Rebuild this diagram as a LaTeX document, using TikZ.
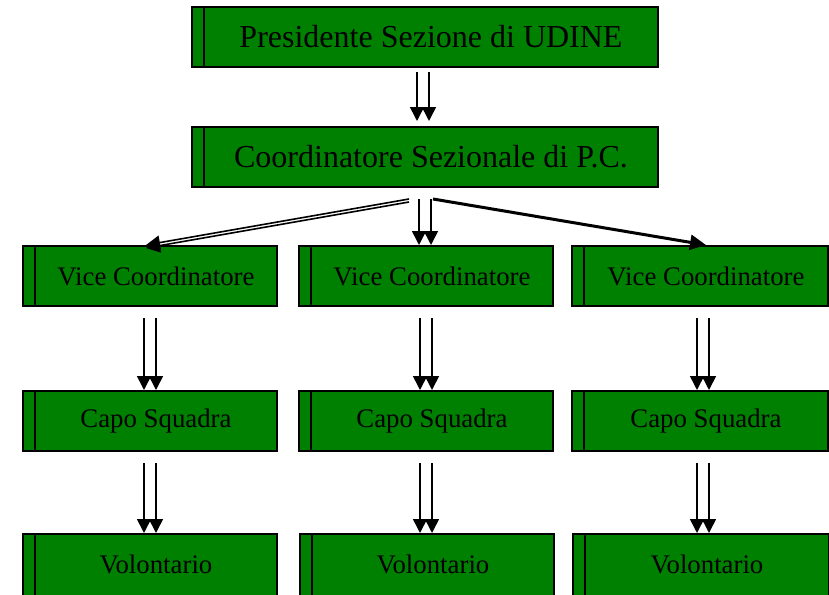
\documentclass[tikz,border=0pt]{standalone}
\usepackage{fontspec}
\setmainfont{Liberation Serif}
\usepackage{xcolor}
\usepackage{tikz}
\usetikzlibrary{arrows.meta}
\usetikzlibrary{positioning}
\definecolor{boxgreen}{RGB}{0,128,0}
\newcommand{\boxline}{1.6pt}
\newcommand{\toptext}{\fontsize{32}{36}\selectfont}
\newcommand{\rowtext}{\fontsize{26.8}{30}\selectfont}
\tikzset{
  stripe/.style={draw=black, line width=\boxline, fill=boxgreen, minimum width=12pt,
    minimum height=60pt, inner sep=0pt, outer sep=0pt},
  orgbody/.style={draw=black, line width=\boxline, fill=boxgreen, minimum height=60pt,
    inner sep=0pt, outer sep=0pt, label={[stripe]left:{}}},
  topbox/.style={orgbody, minimum width=454pt, font=\toptext},
  rowbox/.style={orgbody, minimum width=242pt, font=\rowtext},
  % bottom row runs off the page
  lastbox/.style={rowbox, minimum height=66pt, text depth=6pt,
    label={[stripe, minimum height=66pt]left:{}}},
  link/.style={line width=1.6pt, -{Triangle[length=14pt,width=14pt]}},
  fatlink/.style={line width=3pt, -{Triangle[length=16pt,width=15pt]}}
}
\begin{document}
\begin{tikzpicture}[x=1pt, y=-1pt]
	\useasboundingbox (0,0) rectangle (829,594);
	\clip (0,0) rectangle (829,594);
	% Top of the chart:
	\node[topbox] (pres) at (431,37) {Presidente Sezione di UDINE};
	\node[topbox] (coord) at (431,157) {Coordinatore Sezionale di P.C.};
	% The three columns:
	\node[rowbox] (vice1) at (156,276) {Vice Coordinatore};
	\node[rowbox] (vice2) at (432,276) {Vice Coordinatore};
	\node[rowbox, minimum width=244pt] (vice3) at (706,276) {Vice Coordinatore};
	\node[rowbox] (capo1) at (156,421) {Capo Squadra};
	\node[rowbox] (capo2) at (432,421) {Capo Squadra};
	\node[rowbox, minimum width=244pt] (capo3) at (706,421) {Capo Squadra};
	\node[lastbox] (vol1) at (156,567) {Volontario};
	\node[lastbox] (vol2) at (433,567) {Volontario};
	\node[lastbox, minimum width=244pt] (vol3) at (707,567) {Volontario};
	% Arrows:
	\foreach \dx in {-14,-2}
		\draw[link] ([shift={(\dx,5)}]pres.south) -- ([shift={(\dx,-6)}]coord.north);
	\foreach \dx in {-12,0}
		\draw[link] ([shift={(\dx,12)}]coord.south) -- ([shift={(\dx,-1)}]vice2.north -| coord.south);
	\foreach \dy in {0,3}
		\draw[link] ([shift={(-22,12+\dy)}]coord.south) -- ([shift={(-10,\dy-1)}]vice1.north);
	\draw[fatlink] ([shift={(2,12)}]coord.south) -- ([shift={(0,-1)}]vice3.north);
	\foreach \a/\b/\dx in {vice1/capo1/-12, vice2/capo2/-12, vice3/capo3/-9,
		capo1/vol1/-12, capo2/vol2/-12, capo3/vol3/-9}
	{
		\draw[link] ([shift={(\dx,12)}]\a.south) -- ([shift={(\dx,-1)}]\b.north -| \a.south);
		\draw[link] ([shift={(\dx+12,12)}]\a.south) -- ([shift={(\dx+12,-1)}]\b.north -| \a.south);
	}
\end{tikzpicture}
\end{document}
